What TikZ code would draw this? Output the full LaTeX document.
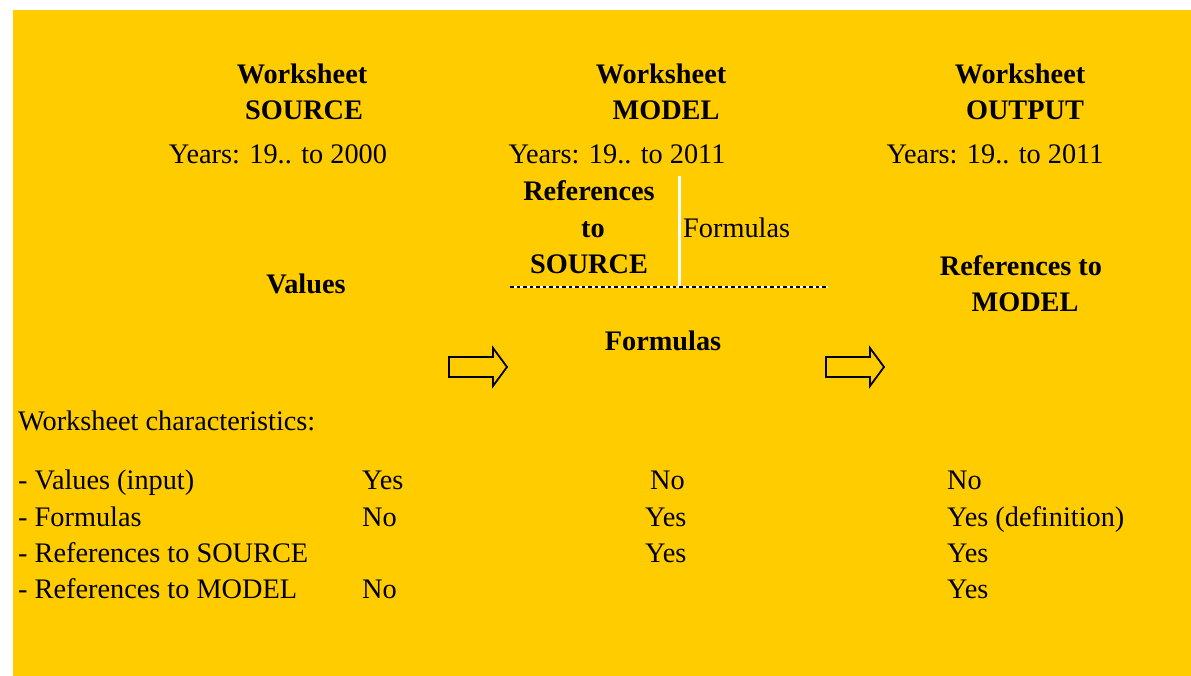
\documentclass[tikz,border=0pt]{standalone}
\usepackage{fontspec}
\setmainfont{Liberation Serif}
\definecolor{bgyellow}{HTML}{FFCC00}
\begin{document}
\begin{tikzpicture}[x=1pt,y=-1pt,
  txt/.style={font=\fontsize{28.3}{36}\selectfont, inner sep=0pt, anchor=base},
  txtl/.style={txt, anchor=base west},
  btxt/.style={txt, font=\fontsize{28.3}{36}\selectfont\bfseries},
  blockarrow/.style={draw=black, line width=1.8pt, fill=none, line join=miter}]
\useasboundingbox (0,0) rectangle (1191,676);
\fill[bgyellow] (13,10) rectangle (1191,676);

% headers
\node[btxt] (ws1) at (302,84) {Worksheet};
\node[btxt] (src) at (304,120) {SOURCE};
\node[btxt] (ws2) at (661,84) {Worksheet};
\node[btxt] (mdl) at (666,120) {MODEL};
\node[btxt] (ws3) at (1020,84) {Worksheet};
\node[btxt] (out) at (1025,120) {OUTPUT};

\node[txt] (y1) at (278,164) {Years: 19.. to 2000};
\node[txt] (y2) at (617,164) {Years: 19.. to 2011};
\node[txt] (y3) at (995,164) {Years: 19.. to 2011};

% model block
\node[btxt] (r1) at (589,201) {References};
\node[btxt] (r2) at (593,238) {to};
\node[btxt] (r3) at (589,274) {SOURCE};
\node[txtl] (fm) at (683,238) {Formulas};
\coordinate (vtop) at (679,176);
\coordinate (vbot) at (679,286);
\draw[white, line width=3pt] (vtop) -- (vbot);
\coordinate (dl) at (510,287);
\coordinate (dr) at (828,287);
\draw[white, line width=2pt] (dl) -- (dr);
\draw[black, line width=2pt, dash pattern=on 3.5pt off 3pt] (dl) -- (dr);
\node[btxt] (fb) at (663,350) {Formulas};

\node[btxt] (val) at (306,294) {Values};
\node[btxt] (rm1) at (1021,276) {References to};
\node[btxt] (rm2) at (1025,312) {MODEL};

% block arrows
\draw[blockarrow] (449,357) -- (493,357) -- (493,348) -- (507,367) -- (493,386) -- (493,377) -- (449,377) -- cycle;
\draw[blockarrow] (826,357) -- (870,357) -- (870,348) -- (884,367) -- (870,386) -- (870,377) -- (826,377) -- cycle;

% characteristics table
\node[txtl] (wc) at (18,430) {Worksheet characteristics:};
\node[txtl] (a1) at (18,489) {- Values (input)};
\node[txtl] (a2) at (18,526) {- Formulas};
\node[txtl] (a3) at (18,562) {- References to SOURCE};
\node[txtl] (a4) at (18,598) {- References to MODEL};

\node[txtl] (b1) at (362,489) {Yes};
\node[txtl] (b2) at (362,526) {No};
\node[txtl] (b4) at (362,598) {No};

\node[txtl] (c1) at (650,489) {No};
\node[txtl] (c2) at (645,526) {Yes};
\node[txtl] (c3) at (645,562) {Yes};

\node[txtl] (d1) at (947,489) {No};
\node[txtl] (d2) at (947,526) {Yes (definition)};
\node[txtl] (d3) at (947,562) {Yes};
\node[txtl] (d4) at (947,598) {Yes};
\end{tikzpicture}
\end{document}
